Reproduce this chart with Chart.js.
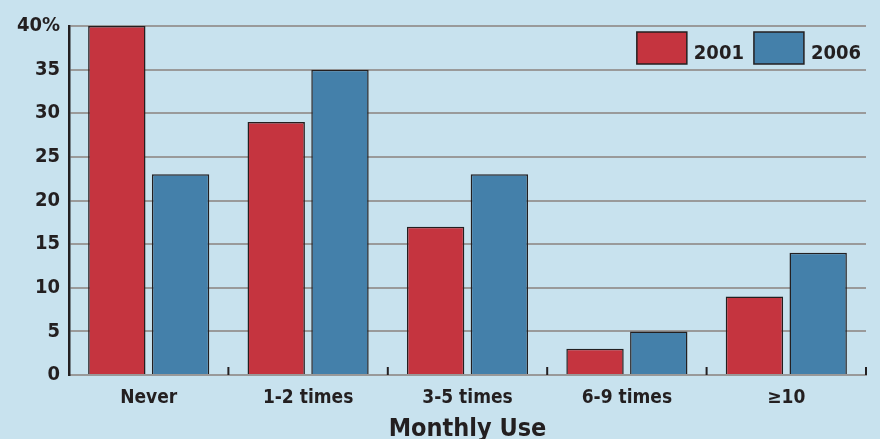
<!DOCTYPE html>
<html>
<head>
<meta charset="utf-8">
<script src="https://cdn.jsdelivr.net/npm/chart.js@4"></script>
<style>
  html, body { margin: 0; padding: 0; background: #c8e2ee; }
  #wrap { width: 880px; height: 439px; }
</style>
</head>
<body>
<div id="wrap"><canvas id="c"></canvas></div>
<script>
// monthly use survey, share of respondents (%)
const categories = ['Never', '1-2 times', '3-5 times', '6-9 times', '\u226510'];
const years = ['2001', '2006'];
const values2001 = [40, 29, 17, 3, 9];
const values2006 = [23, 35, 23, 5, 14];
const yTicks = [0, 5, 10, 15, 20, 25, 30, 35, 40];

const FONT = '"Liberation Sans Narrow", "DejaVu Sans Condensed", "Roboto Condensed", sans-serif';
const INK = '#231f20';

// small upward ticks on the x axis at the category boundaries
const boundaryTicks = {
  id: 'boundaryTicks',
  afterDatasetsDraw(chart) {
    const x = chart.scales.x;
    const ctx = chart.ctx;
    ctx.save();
    ctx.strokeStyle = INK;
    ctx.lineWidth = 2;
    for (let i = 0; i < categories.length; i++) {
      const px = x.getPixelForValue(i + 0.5);
      ctx.beginPath();
      ctx.moveTo(px, x.top);
      ctx.lineTo(px, x.top - 8);
      ctx.stroke();
    }
    ctx.restore();
  },
};

// legend boxes inside the plot, top right, between the 40 and 35 lines
const insideLegend = {
  id: 'insideLegend',
  afterDraw(chart) {
    const ctx = chart.ctx;
    const area = chart.chartArea;
    ctx.save();
    ctx.font = 'bold 20px ' + FONT;
    ctx.textBaseline = 'middle';
    const boxW = 50, boxH = 32, gapText = 7, gapItem = 10;
    const top = area.top + 6;
    let xr = area.right - 5;
    const items = chart.data.datasets.slice().reverse();
    items.forEach((ds) => {
      const tw = ctx.measureText(ds.label).width;
      const bx = xr - tw - gapText - boxW;
      ctx.fillStyle = ds.backgroundColor;
      ctx.fillRect(bx, top, boxW, boxH);
      ctx.strokeStyle = INK;
      ctx.lineWidth = 1.5;
      ctx.strokeRect(bx, top, boxW, boxH);
      ctx.fillStyle = INK;
      ctx.fillText(ds.label, bx + boxW + gapText, top + boxH / 2 + 6);
      xr = bx - gapItem;
    });
    ctx.restore();
  },
};

new Chart(document.getElementById('c'), {
  type: 'bar',
  data: {
    labels: categories,
    datasets: [
      { label: years[0], data: values2001, backgroundColor: '#c5343f', borderColor: INK, borderWidth: 1.5 },
      { label: years[1], data: values2006, backgroundColor: '#4480aa', borderColor: INK, borderWidth: 1.5 },
    ],
  },
  options: {
    responsive: true, maintainAspectRatio: false, animation: false,
    datasets: { bar: { categoryPercentage: 0.8, barPercentage: 0.9 } },
    layout: { padding: { top: 26, right: 14, left: 0, bottom: 0 } },
    plugins: {
      legend: { display: false },
      tooltip: { enabled: false },
    },
    scales: {
      x: {
        grid: { display: false, drawTicks: false },
        border: { display: true, color: '#999', width: 2 },
        ticks: { color: INK, padding: 12, font: { family: FONT, size: 19, weight: 'bold' } },
        title: { display: true, text: 'Monthly Use', color: INK, padding: { top: 0, bottom: -5 }, font: { family: FONT, size: 25, weight: 'bold' } },
        afterFit: (s) => { s.height = 64; },
      },
      y: {
        min: 0, max: 40,
        afterBuildTicks: (s) => { s.ticks = yTicks.map((v) => ({ value: v })); },
        grid: { color: '#9a9a9a', lineWidth: 2, drawTicks: false },
        border: { display: true, color: INK, width: 2.5 },
        ticks: {
          color: INK, padding: 9,
          font: { family: FONT, size: 20, weight: 'bold' },
          callback: (v) => (v === 40 ? v + '%' : v),
        },
        afterFit: (s) => { s.width = 69; },
      },
    },
  },
  plugins: [boundaryTicks, insideLegend],
});
</script>
</body>
</html>
